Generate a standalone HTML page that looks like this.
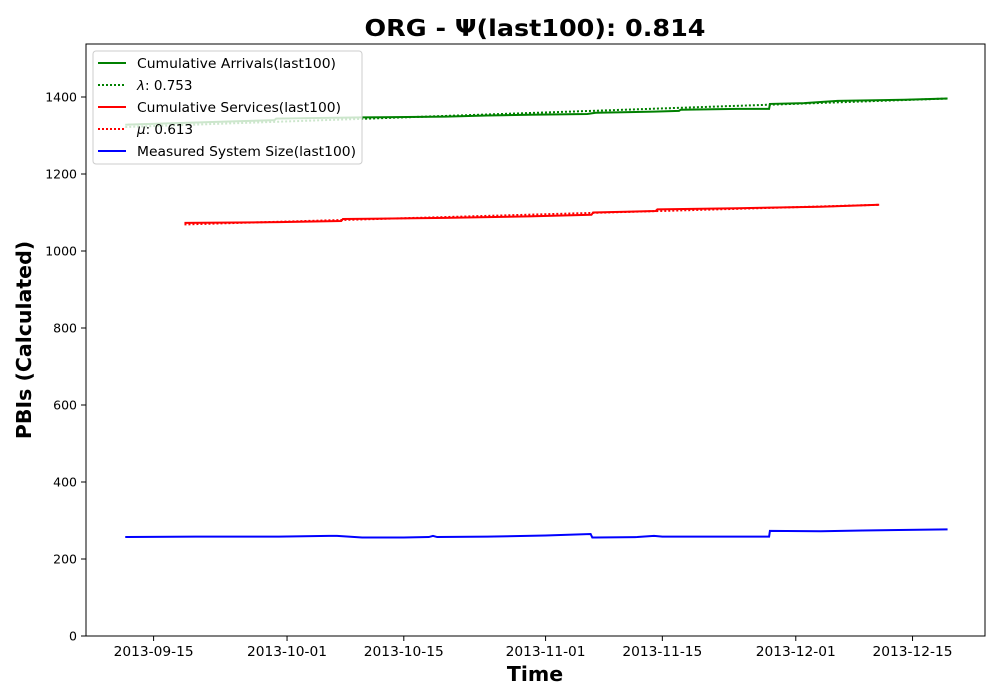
<!DOCTYPE html>
<html><head><meta charset="utf-8"><style>
html,body{margin:0;padding:0;background:#fff;}
svg{display:block;font-family:"DejaVu Sans","Liberation Sans",sans-serif;}
</style></head><body>
<svg id="chart" width="1000" height="700">
<text x="535" y="36" text-anchor="middle" font-size="23" font-weight="bold" textLength="341" lengthAdjust="spacingAndGlyphs">ORG -  Ψ(last100): 0.814</text>
<g id="plot"></g>
<rect x="86" y="44" width="899" height="592" fill="none" stroke="#000" stroke-width="1"/>
<g id="axes"></g>
<text x="535" y="681" text-anchor="middle" font-size="20.5" font-weight="bold">Time</text>
<text transform="translate(31,340) rotate(-90)" text-anchor="middle" font-size="20.5" font-weight="bold">PBIs (Calculated)</text>
<g>
<rect x="93" y="51" width="269" height="113" rx="3" fill="#fff" fill-opacity="0.8" stroke="#ccc"/>
<line x1="98" x2="126" y1="63" y2="63" stroke="green" stroke-width="2"/>
<text x="137" y="68" font-size="13" textLength="199" lengthAdjust="spacingAndGlyphs">Cumulative Arrivals(last100)</text>
<line x1="98" x2="126" y1="85" y2="85" stroke="green" stroke-width="2" stroke-dasharray="2,2"/>
<text x="137" y="90" font-size="13.5"><tspan font-style="italic">λ</tspan>: 0.753</text>
<line x1="98" x2="126" y1="107" y2="107" stroke="red" stroke-width="2"/>
<text x="137" y="112" font-size="13" textLength="204" lengthAdjust="spacingAndGlyphs">Cumulative Services(last100)</text>
<line x1="98" x2="126" y1="129" y2="129" stroke="red" stroke-width="2" stroke-dasharray="2,2"/>
<text x="137" y="134" font-size="13.5"><tspan font-style="italic">μ</tspan>: 0.613</text>
<line x1="98" x2="126" y1="151" y2="151" stroke="blue" stroke-width="2"/>
<text x="137" y="156" font-size="13" textLength="219" lengthAdjust="spacingAndGlyphs">Measured System Size(last100)</text>
</g>
</svg>
<script>
// days offset from 2013-09-15
const xTickDays = [0,16,30,47,61,77,91];
const xTickLabels = ["2013-09-15","2013-10-01","2013-10-15","2013-11-01","2013-11-15","2013-12-01","2013-12-15"];
const yTicks = [0,200,400,600,800,1000,1200,1400];
const arrDays = [-3.4,10,14.5,14.7,25,35,40,45,52,53,60,63,63.2,70,73.8,73.9,78,80,82,90,95.2];
const arrVals = [1328,1337,1340,1344,1347,1349,1352,1354,1356,1359,1362,1364,1367,1369,1369,1382,1384,1387,1390,1393,1396];
const lamDays = [-3.4,95.2];
const lamVals = [1322,1396];
const srvDays = [3.7,15,22.5,22.7,35,45,52.5,52.7,60.2,60.4,70,80,87];
const srvVals = [1073,1075,1078,1083,1086,1090,1094,1100,1104,1108,1111,1115,1120];
const muDays = [3.7,87];
const muVals = [1069,1120];
const sysDays = [-3.4,5,15,21,22,25,30,33,33.5,34,40,47,52.4,52.6,53,58,60,61,70,73.8,73.9,80,85,95.2];
const sysVals = [257,258,258,260,260,256,256,257,260,257,258,261,265,256,256,257,260,258,258,258,273,272,274,277];
const x = d => 153.6 + d*8.34;
const y = v => 636 - v*0.385;
const NS="http://www.w3.org/2000/svg";
const plot=document.getElementById('plot'), axes=document.getElementById('axes');
function line(days, vals, color, dash, name){
  const p=document.createElementNS(NS,'polyline');
  p.setAttribute('points', days.map((d,i)=>x(d)+','+y(vals[i])).join(' '));
  p.setAttribute('fill','none'); p.setAttribute('stroke',color); p.setAttribute('stroke-width','2');
  if(dash) p.setAttribute('stroke-dasharray','2,2');
  
  
  plot.appendChild(p);
}
line(arrDays,arrVals,'green',false,'arrivals-line');
line(lamDays,lamVals,'green',true,'lambda-line');
line(srvDays,srvVals,'red',false,'services-line');
line(muDays,muVals,'red',true,'mu-line');
line(sysDays,sysVals,'blue',false,'system-size-line');
xTickDays.forEach((d,i)=>{
  const t=document.createElementNS(NS,'line');
  t.setAttribute('x1',x(d));t.setAttribute('x2',x(d));t.setAttribute('y1',636);t.setAttribute('y2',641);t.setAttribute('stroke','#000');
  axes.appendChild(t);
  const l=document.createElementNS(NS,'text');
  l.setAttribute('x',x(d));l.setAttribute('y',656);l.setAttribute('text-anchor','middle');l.setAttribute('font-size','13');
  l.setAttribute('textLength','80');l.setAttribute('lengthAdjust','spacingAndGlyphs');
  l.textContent=xTickLabels[i];
  
  
  axes.appendChild(l);
});
yTicks.forEach(v=>{
  const t=document.createElementNS(NS,'line');
  t.setAttribute('x1',81);t.setAttribute('x2',86);t.setAttribute('y1',y(v));t.setAttribute('y2',y(v));t.setAttribute('stroke','#000');
  axes.appendChild(t);
  const l=document.createElementNS(NS,'text');
  l.setAttribute('x',77);l.setAttribute('y',y(v)+4.5);l.setAttribute('text-anchor','end');l.setAttribute('font-size','12.5');
  l.textContent=v;
  
  
  axes.appendChild(l);
});
</script>
</body></html>
